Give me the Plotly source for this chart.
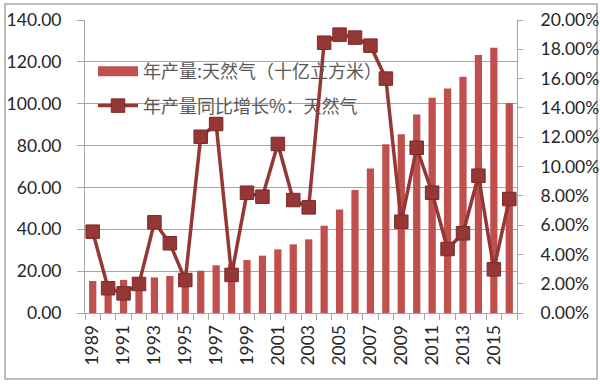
import plotly.graph_objects as go

years = list(range(1989, 2017))
production = [15.3, 15.3, 15.8, 16.0, 17.0, 17.7, 17.9, 20.2, 22.8, 23.3,
              25.3, 27.4, 30.4, 32.8, 35.2, 41.7, 49.5, 58.8, 69.1, 80.6,
              85.4, 94.9, 102.9, 107.3, 112.9, 123.3, 126.8, 100.3]
growth = [5.55, 1.69, 1.34, 1.98, 6.19, 4.76, 2.25, 12.03, 12.9, 2.6,
          8.21, 7.94, 11.54, 7.71, 7.21, 18.45, 19.0, 18.8, 18.25, 16.0,
          6.23, 11.28, 8.21, 4.37, 5.44, 9.37, 2.98, 7.78]
label_years = list(range(1989, 2017, 2))
left_ticks = [0, 20, 40, 60, 80, 100, 120, 140]
right_ticks = [0, 2, 4, 6, 8, 10, 12, 14, 16, 18, 20]

bar_name = "年产量:天然气（十亿立方米）"
line_name = "年产量同比增长%：天然气"

num_font = dict(family="Lato, Open Sans, sans-serif", size=17.5, color="#262626")
grid = "#A6A6A6"
bar_color = "#C0504D"
line_color = "#953735"

fig = go.Figure()
fig.add_trace(go.Bar(x=years, y=production, name=bar_name, width=0.47,
                     marker=dict(color=bar_color, line=dict(width=0)),
                     showlegend=False))
# legend-only entry so the bar swatch is a wide rectangle like Excel's
fig.add_trace(go.Scatter(x=[None], y=[None], name=bar_name, mode="lines",
                         line=dict(color=bar_color, width=10),
                         legendgroup="a"))
fig.add_trace(go.Scatter(x=years, y=growth, name=line_name, yaxis="y2",
                         mode="lines+markers",
                         line=dict(color=line_color, width=3.5),
                         marker=dict(symbol="square", size=13.5, color=line_color,
                                     line=dict(color="#7A2B2A", width=1)),
                         legendgroup="b"))

W, H = 600, 384
L, R, T, B = 85, 83, 20, 71
pw, ph = W - L - R, H - T - B

def px(x):
    return (x - L) / pw

def py(y):
    return (H - B - y) / ph

fig.update_layout(
    width=W, height=H,
    margin=dict(l=L, r=R, t=T, b=B, autoexpand=False),
    paper_bgcolor="white", plot_bgcolor="white",
    showlegend=True,
    legend=dict(x=px(93), y=py(53), xanchor="left", yanchor="top",
                bgcolor="rgba(0,0,0,0)", tracegroupgap=8,
                font=dict(family="Noto Sans CJK SC", size=18, color="#595959"),
                itemwidth=40),
    xaxis=dict(range=[1988.5, 2016.5], tickmode="array", tickvals=label_years,
               ticktext=[str(y) for y in label_years], tickangle=-90,
               ticks="", showgrid=False, showline=True, linecolor=grid,
               linewidth=1, tickfont=num_font, zeroline=False,
               ticklabelstandoff=4, automargin=False,
               minor=dict(tickmode="linear", tick0=1988.5, dtick=1,
                          ticks="outside", ticklen=6, tickcolor=grid,
                          showgrid=False)),
    yaxis=dict(range=[0, 140], tickmode="array", tickvals=left_ticks,
               ticktext=[f"{v:.2f}" for v in left_ticks],
               showgrid=True, gridcolor=grid, gridwidth=1,
               showline=True, linecolor=grid, ticks="outside", ticklen=7,
               tickcolor=grid, tickfont=num_font, zeroline=False,
               ticklabelstandoff=12, automargin=False),
    yaxis2=dict(range=[0, 20], overlaying="y", side="right", tickmode="array",
                tickvals=right_ticks,
                ticktext=[f"{v:.2f}%" for v in right_ticks],
                showgrid=False, showline=True, linecolor=grid,
                ticks="outside", ticklen=5, tickcolor=grid,
                tickfont=num_font, zeroline=False, ticklabelstandoff=14,
                automargin=False),
    bargap=0.5,
    shapes=[dict(type="rect", xref="paper", yref="paper",
                 x0=px(5), x1=px(597), y0=py(379), y1=py(4),
                 line=dict(color="#A6A6A6", width=1.5), layer="below")],
)

fig.write_html("out.html", config={"displayModeBar": False},
               post_script="document.body.style.margin='0';document.body.style.overflow='hidden';")
